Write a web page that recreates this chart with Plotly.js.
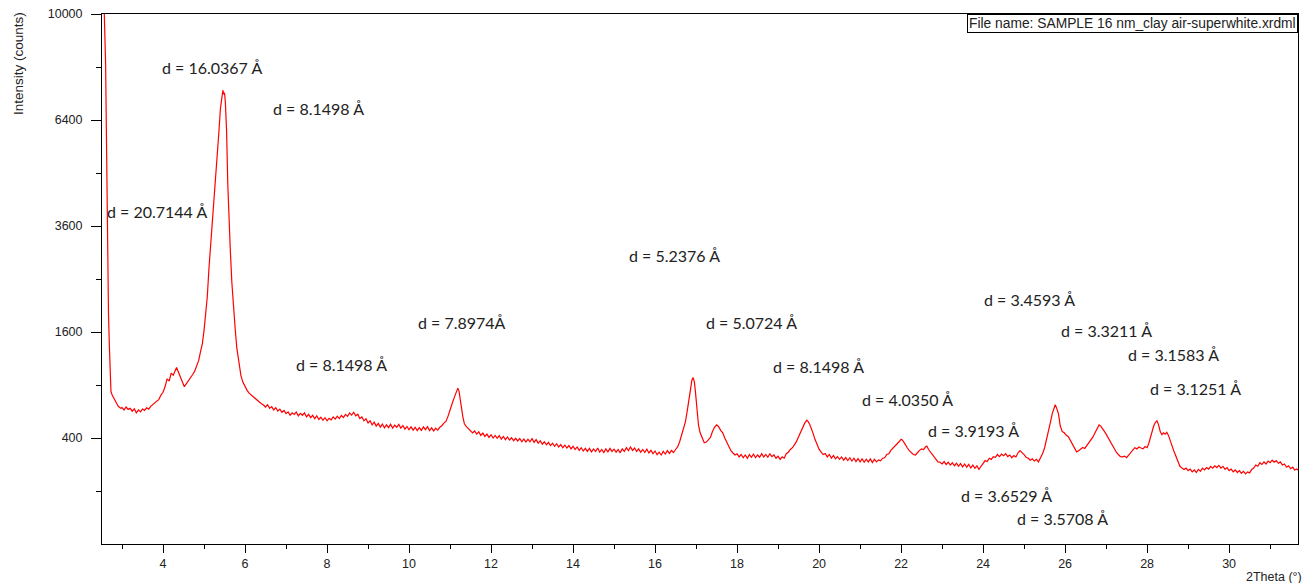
<!DOCTYPE html>
<html>
<head>
<meta charset="utf-8">
<script src="https://cdn.plot.ly/plotly-3.0.1.min.js"></script>
<style>html,body{margin:0;padding:0;background:#fff;}#chart{width:1302px;height:583px;}</style>
</head>
<body>
<div id="chart"></div>
<script>
// 2Theta (degrees)
const twoTheta = [
2.52,2.55,2.57,2.60,2.62,2.65,2.67,2.69,2.71,2.73,
2.76,2.79,2.82,2.85,2.88,2.91,2.94,2.97,3.00,3.05,
3.10,3.15,3.20,3.25,3.30,3.35,3.40,3.45,3.50,3.55,
3.60,3.65,3.70,3.75,3.80,3.85,3.90,3.95,4.00,4.05,
4.10,4.15,4.20,4.25,4.30,4.33,4.37,4.42,4.47,4.52,
4.57,4.62,4.67,4.72,4.77,4.82,4.87,4.92,4.96,5.00,
5.04,5.08,5.12,5.16,5.20,5.24,5.28,5.32,5.36,5.40,
5.43,5.46,5.48,5.50,5.52,5.55,5.58,5.61,5.64,5.68,
5.72,5.76,5.80,5.85,5.90,5.95,6.00,6.05,6.10,6.15,
6.20,6.25,6.30,6.35,6.40,6.45,6.50,6.55,6.60,6.65,
6.70,6.75,6.80,6.85,6.90,6.95,7.00,7.05,7.10,7.15,
7.20,7.25,7.30,7.35,7.40,7.45,7.50,7.55,7.60,7.65,
7.70,7.75,7.80,7.85,7.90,7.95,8.00,8.05,8.10,8.15,
8.20,8.25,8.30,8.35,8.40,8.45,8.50,8.55,8.60,8.65,
8.70,8.75,8.80,8.85,8.90,8.95,9.00,9.05,9.10,9.15,
9.20,9.25,9.30,9.35,9.40,9.45,9.50,9.55,9.60,9.65,
9.70,9.75,9.80,9.85,9.90,9.95,10.00,10.05,10.10,10.15,
10.20,10.25,10.30,10.35,10.40,10.45,10.50,10.55,10.60,10.65,
10.70,10.75,10.80,10.85,10.90,10.95,11.00,11.05,11.10,11.13,
11.16,11.19,11.22,11.25,11.28,11.31,11.35,11.40,11.45,11.50,
11.55,11.60,11.65,11.70,11.75,11.80,11.85,11.90,11.95,12.00,
12.05,12.10,12.15,12.20,12.25,12.30,12.35,12.40,12.45,12.50,
12.55,12.60,12.65,12.70,12.75,12.80,12.85,12.90,12.95,13.00,
13.05,13.10,13.15,13.20,13.25,13.30,13.35,13.40,13.45,13.50,
13.55,13.60,13.65,13.70,13.75,13.80,13.85,13.90,13.95,14.00,
14.05,14.10,14.15,14.20,14.25,14.30,14.35,14.40,14.45,14.50,
14.55,14.60,14.65,14.70,14.75,14.80,14.85,14.90,14.95,15.00,
15.05,15.10,15.15,15.20,15.25,15.30,15.35,15.40,15.45,15.50,
15.55,15.60,15.65,15.70,15.75,15.80,15.85,15.90,15.95,16.00,
16.05,16.10,16.15,16.20,16.25,16.30,16.35,16.40,16.45,16.50,
16.55,16.60,16.65,16.70,16.74,16.78,16.82,16.86,16.90,16.93,
16.96,16.99,17.02,17.06,17.10,17.15,17.20,17.25,17.30,17.35,
17.40,17.45,17.50,17.55,17.60,17.65,17.70,17.75,17.80,17.85,
17.90,17.95,18.00,18.05,18.10,18.15,18.20,18.25,18.30,18.35,
18.40,18.45,18.50,18.55,18.60,18.65,18.70,18.75,18.80,18.85,
18.90,18.95,19.00,19.05,19.10,19.15,19.20,19.25,19.30,19.35,
19.40,19.45,19.50,19.55,19.60,19.65,19.70,19.73,19.77,19.81,
19.85,19.90,19.95,20.00,20.05,20.10,20.15,20.20,20.25,20.30,
20.35,20.40,20.45,20.50,20.55,20.60,20.65,20.70,20.75,20.80,
20.85,20.90,20.95,21.00,21.05,21.10,21.15,21.20,21.25,21.30,
21.35,21.40,21.45,21.50,21.55,21.60,21.65,21.70,21.75,21.80,
21.85,21.90,21.95,22.00,22.03,22.07,22.11,22.15,22.20,22.25,
22.30,22.35,22.40,22.45,22.50,22.55,22.60,22.63,22.67,22.72,
22.76,22.80,22.85,22.90,22.95,23.00,23.05,23.10,23.15,23.20,
23.25,23.30,23.35,23.40,23.45,23.50,23.55,23.60,23.65,23.70,
23.75,23.80,23.85,23.90,23.95,24.00,24.05,24.10,24.15,24.20,
24.25,24.30,24.35,24.40,24.45,24.50,24.55,24.60,24.65,24.70,
24.75,24.80,24.85,24.90,24.95,25.00,25.05,25.10,25.15,25.20,
25.25,25.30,25.35,25.40,25.45,25.50,25.55,25.60,25.65,25.69,
25.73,25.76,25.80,25.84,25.88,25.93,25.98,26.03,26.08,26.13,
26.18,26.23,26.28,26.33,26.38,26.43,26.48,26.53,26.58,26.63,
26.68,26.73,26.78,26.83,26.87,26.91,26.95,27.00,27.05,27.10,
27.15,27.20,27.25,27.30,27.35,27.40,27.45,27.50,27.55,27.60,
27.65,27.70,27.75,27.80,27.85,27.90,27.95,28.00,28.04,28.08,
28.12,28.16,28.20,28.24,28.28,28.32,28.36,28.40,28.44,28.48,
28.52,28.56,28.60,28.65,28.70,28.75,28.80,28.85,28.90,28.95,
29.00,29.05,29.10,29.15,29.20,29.25,29.30,29.35,29.40,29.45,
29.50,29.55,29.60,29.65,29.70,29.75,29.80,29.85,29.90,29.95,
30.00,30.05,30.10,30.15,30.20,30.25,30.30,30.35,30.40,30.45,
30.50,30.55,30.60,30.65,30.70,30.75,30.80,30.85,30.90,30.95,
31.00,31.05,31.10,31.15,31.20,31.25,31.30,31.35,31.40,31.45,
31.50,31.55,31.60,31.65,31.68
];

// Intensity (counts)
const intensity = [
13000,11500,9900,8200,5450,2960,1900,1430,900,830,
790,762,735,712,695,675,668,655,662,640,
668,645,655,628,650,612,640,622,648,636,
660,648,675,690,705,728,745,790,820,880,
970,945,1040,1015,1090,1110,1060,1000,930,880,
915,955,985,1020,1060,1130,1200,1330,1430,1620,
1850,2180,2700,3150,3650,4100,4560,5250,6000,6750,
7100,7330,7200,7250,6950,6100,4600,3700,3100,2420,
1950,1650,1370,1150,1010,930,875,840,810,790,
770,750,732,718,700,688,668,690,655,672,
640,662,630,648,618,636,605,622,590,612,
598,620,585,608,590,612,575,598,568,590,
560,585,552,572,545,568,540,562,548,575,
555,582,560,588,570,598,580,612,592,618,
585,600,560,575,540,558,522,540,505,528,
495,518,486,512,480,505,482,510,478,502,
485,510,478,500,470,492,465,488,462,485,
458,482,460,488,465,490,458,480,455,478,
462,485,498,520,535,580,630,700,760,800,
840,865,830,760,660,580,515,490,470,458,
440,455,430,448,420,438,412,430,405,425,
400,420,398,418,392,412,388,408,385,402,
380,398,378,396,372,392,370,390,372,395,
368,388,362,380,355,372,350,368,345,362,
340,358,335,352,330,348,328,345,322,340,
318,335,312,330,308,326,305,325,302,322,
305,328,300,318,298,322,302,325,305,320,
300,318,296,322,305,330,310,335,312,328,
305,322,300,318,298,320,295,312,290,308,
284,300,282,305,288,310,292,312,298,318,
335,372,420,480,530,620,740,860,960,985,
930,800,640,500,440,395,365,370,385,405,
450,485,505,490,460,440,400,365,330,310,
295,282,290,270,285,265,282,262,285,268,
288,265,282,268,290,270,286,268,290,272,
282,262,275,255,270,262,290,300,318,330,
352,375,410,450,480,520,545,535,510,480,
440,390,350,320,300,285,292,270,285,262,
278,258,272,255,270,250,266,248,265,245,
262,242,260,240,258,238,256,240,258,236,
255,240,252,246,262,265,285,290,312,325,
345,358,372,390,385,368,345,330,310,296,
285,282,300,312,322,318,338,340,318,300,
285,268,252,240,238,228,242,225,238,222,
235,218,232,215,230,212,228,210,226,206,
222,204,218,198,215,228,248,242,262,255,
272,268,285,272,288,278,290,272,282,265,
278,270,295,310,298,285,268,262,250,258,
245,255,240,262,290,330,390,445,540,610,
660,690,650,600,500,450,440,420,410,380,
350,318,302,310,322,332,325,345,358,380,
408,440,475,505,495,470,455,430,400,370,
345,320,300,285,272,270,275,265,280,300,
318,330,322,335,328,322,338,330,360,410,
450,495,525,540,505,450,425,440,430,445,
420,390,350,310,280,245,215,205,198,205,
192,200,185,195,182,198,188,205,195,208,
200,215,205,218,208,220,205,215,198,208,
192,200,185,195,182,192,178,188,175,185,
180,198,205,222,215,235,225,240,228,245,
235,250,238,248,232,240,222,228,210,218,
202,210,195,200,195
];

const yTickCounts = [400, 1600, 3600, 6400, 10000];
const xTickValues = [4, 6, 8, 10, 12, 14, 16, 18, 20, 22, 24, 26, 28, 30];

const peakLabels = [
  "d = 16.0367 Å", "d = 8.1498 Å", "d = 20.7144 Å", "d = 8.1498 Å",
  "d = 7.8974Å", "d = 5.2376 Å", "d = 5.0724 Å", "d = 8.1498 Å",
  "d = 4.0350 Å", "d = 3.9193 Å", "d = 3.4593 Å", "d = 3.3211 Å",
  "d = 3.1583 Å", "d = 3.1251 Å", "d = 3.6529 Å", "d = 3.5708 Å"
];
// label anchor positions: [2Theta, sqrt(counts)]
const labelPositions = [
  [5.20, 90.0], [7.79, 82.1], [3.86, 62.7], [8.35, 33.9],
  [11.30, 41.8], [16.47, 54.4], [18.35, 41.8], [19.98, 33.5],
  [22.15, 27.3], [23.76, 21.5], [25.13, 46.1], [27.01, 40.3],
  [28.64, 35.8], [29.18, 29.4], [24.57, 9.1], [25.93, 4.8]
];

const fileLabel = "File name: SAMPLE 16 nm_clay air-superwhite.xrdml";
const xTitle = "2Theta (°)";
const yTitle = "Intensity (counts)";

const axisFont = {family: "Liberation Sans, Arial, sans-serif", size: 12.5, color: "#222"};
const labelFont = {family: "Lato, sans-serif", size: 16, color: "#222"};

const trace = {
  x: twoTheta,
  y: intensity.map(v => Math.sqrt(v)),
  type: "scatter",
  mode: "lines",
  line: {color: "#ff0000", width: 1.2},
  hoverinfo: "skip"
};

const annotations = peakLabels.map((t, i) => ({
  text: t, x: labelPositions[i][0], y: labelPositions[i][1],
  xref: "x", yref: "y", showarrow: false,
  xanchor: "center", yanchor: "middle", font: labelFont
}));

annotations.push({
  text: fileLabel, xref: "paper", yref: "paper", x: 1, y: 1,
  xanchor: "right", yanchor: "top", showarrow: false,
  font: {family: "Liberation Sans, Arial, sans-serif", size: 13.8, color: "#222"},
  bordercolor: "#000", borderwidth: 1, borderpad: 1, bgcolor: "#fff"
});
annotations.push({
  text: xTitle, xref: "paper", yref: "paper", x: 1, y: 0,
  xanchor: "right", yanchor: "middle", xshift: 6, yshift: -33,
  showarrow: false, font: axisFont
});
annotations.push({
  text: yTitle, xref: "paper", yref: "paper", x: 0, y: 1,
  xanchor: "center", yanchor: "middle", xshift: -84, yshift: -50,
  textangle: -90, showarrow: false, font: {family: "Liberation Sans, Arial, sans-serif", size: 13.5, color: "#222"}
});

const layout = {
  width: 1302, height: 583,
  margin: {l: 102, r: 4, t: 14, b: 39, pad: 0},
  paper_bgcolor: "#fff", plot_bgcolor: "#fff",
  showlegend: false,
  xaxis: {
    range: [2.512, 31.68], tickmode: "array", tickvals: xTickValues,
    ticktext: xTickValues.map(String),
    ticks: "outside", ticklen: 8, tickwidth: 1, tickcolor: "#000",
    showline: true, linecolor: "#000", linewidth: 1, mirror: true,
    showgrid: false, zeroline: false, tickfont: axisFont,
    minor: {tickmode: "linear", tick0: 0, dtick: 1, ticks: "outside", ticklen: 4, tickcolor: "#000", showgrid: false}
  },
  yaxis: {
    range: [0, 100], tickmode: "array", tickvals: yTickCounts.map(v => Math.sqrt(v)),
    ticktext: yTickCounts.map(String),
    ticks: "outside", ticklen: 10, tickwidth: 1, tickcolor: "#000",
    showline: true, linecolor: "#000", linewidth: 1, mirror: true,
    showgrid: false, zeroline: false, tickfont: axisFont, ticklabelstandoff: 6,
    minor: {tickmode: "array", tickvals: [10, 30, 50, 70, 90], ticks: "outside", ticklen: 5, tickcolor: "#000", showgrid: false}
  },
  annotations: annotations
};

Plotly.newPlot("chart", [trace], layout, {displayModeBar: false, staticPlot: true});
</script>
</body>
</html>
